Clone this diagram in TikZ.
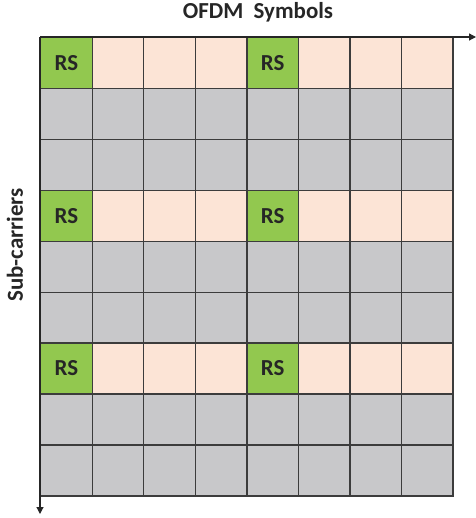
\documentclass[tikz,border=0pt]{standalone}
\usepackage{fontspec}
\setmainfont{Carlito}
\usetikzlibrary{arrows.meta}
\definecolor{rsgreen}{HTML}{92C84F}
\definecolor{datapink}{HTML}{FCE4D6}
\definecolor{cellgray}{HTML}{C8C8CA}
\definecolor{gridline}{HTML}{3C3C3C}
\tikzset{
  cellbox/.style={draw=gridline, line width=1.4bp, minimum width=51.54bp, minimum height=50.9bp, inner sep=0pt, anchor=north west},
  rscell/.style={cellbox, fill=rsgreen, font=\bfseries\fontsize{23}{23}\selectfont, text=black!85},
  pinkcell/.style={cellbox, fill=datapink},
  graycell/.style={cellbox, fill=cellgray},
  axisarrow/.style={draw=black!85, line width=1.2bp, -{Triangle[length=7bp,width=7bp]}},
  axislabel/.style={font=\bfseries\fontsize{23}{23}\selectfont, text=black!85}
}
\begin{document}
\begin{tikzpicture}[x=1bp,y=-1bp]
\useasboundingbox (0,0) rectangle (476,518);
\foreach \r in {0,...,8}{
  \foreach \c in {0,...,7}{
    \pgfmathtruncatemacro{\rm}{mod(\r,3)}
    \pgfmathtruncatemacro{\cm}{mod(\c,4)}
    \ifnum\rm=0
      \ifnum\cm=0
        \node[rscell] (cell-\r-\c) at (40+\c*51.54, 37+\r*50.9) {RS};
      \else
        \node[pinkcell] (cell-\r-\c) at (40+\c*51.54, 37+\r*50.9) {};
      \fi
    \else
      \node[graycell] (cell-\r-\c) at (40+\c*51.54, 37+\r*50.9) {};
    \fi
  }
}
\coordinate (xend) at (476,37);
\coordinate (yend) at (40,514);
\draw[axisarrow] (cell-0-0.north west) -- (xend);
\draw[axisarrow] (cell-0-0.north west) -- (yend);
\node[axislabel] (xlabel) at (258,12) {OFDM\ \ Symbols};
\node[axislabel, rotate=90] (ylabel) at (15,245) {Sub-carriers};
\end{tikzpicture}
\end{document}
